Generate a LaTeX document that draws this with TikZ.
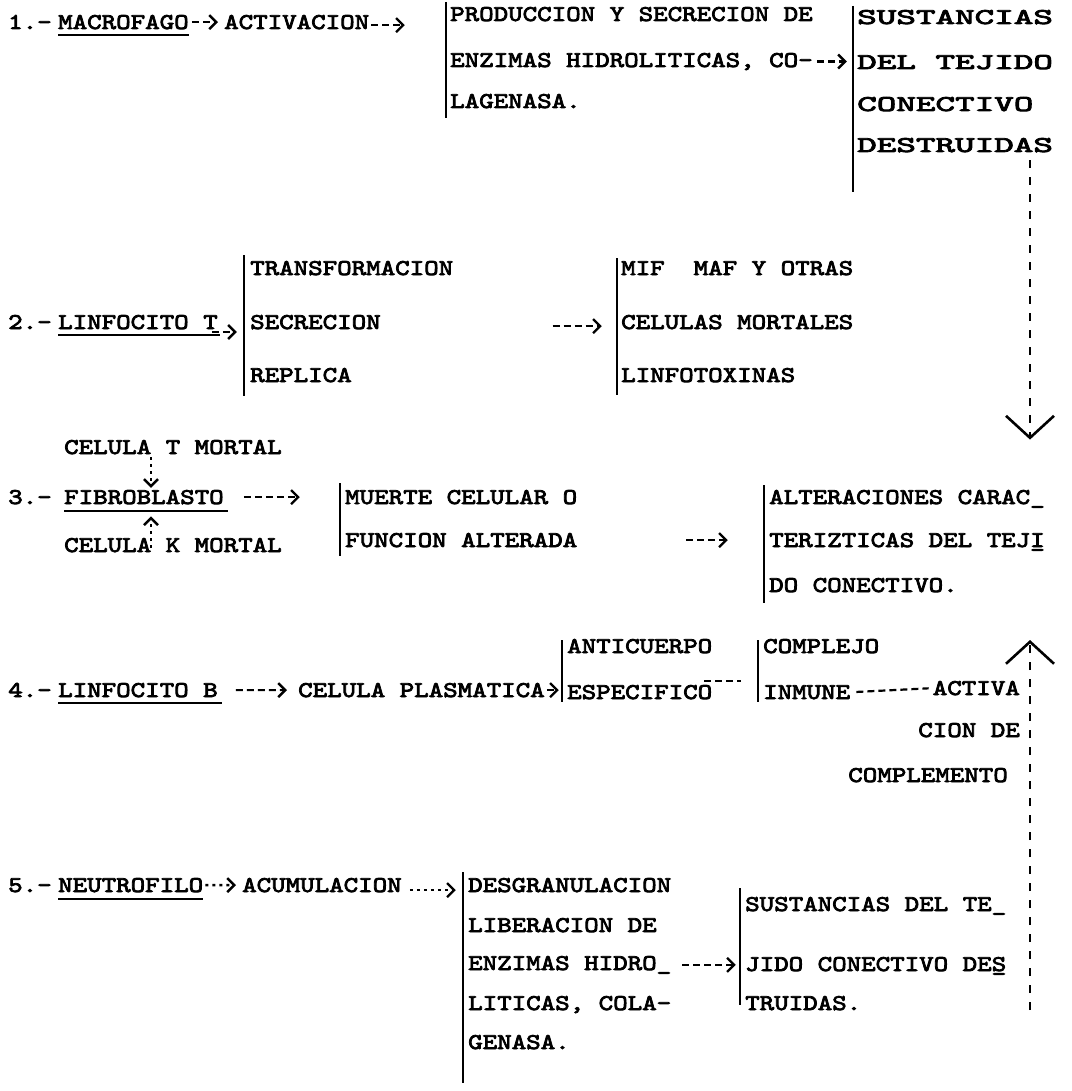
\documentclass[tikz,border=0pt]{standalone}
\usepackage{fontspec}
\usepackage{graphicx}
\usetikzlibrary{arrows.meta,fit,calc}
\newfontfamily\twf{lmmono10-regular.otf}[FakeStretch=1.2275,FakeBold=3.5]
\newcommand\twfont{\fontsize{22.5}{27}\selectfont\twf}
\newcommand\wide[1]{\scalebox{1.35}[1]{#1}}
\begin{document}
\begin{tikzpicture}[x=1pt,y=-1pt,
  t/.style={anchor=base west,inner sep=0pt,font=\twfont},
  tr/.style={anchor=base east,inner sep=0pt,font=\twfont},
  grp/.style={inner sep=0pt},
  bar/.style={line width=2.4pt},
  ul/.style={line width=1.8pt},
  con/.style={line width=2.2pt,dash pattern=on 7pt off 4pt,-{Straight Barb[length=7pt,width=14pt,line width=2.4pt]}},
  dcon/.style={line width=2.4pt,dash pattern=on 3pt off 4pt,-{Straight Barb[length=7pt,width=14pt,line width=2.4pt]}},
  pdash/.style={line width=2.2pt,dash pattern=on 7pt off 4pt},
  vcon/.style={line width=2.6pt,dash pattern=on 8pt off 9pt,-{Straight Barb[length=22pt,width=48pt,line width=2.6pt]}},
]
\fill[white] (0,0) rectangle (1071,1091);
\useasboundingbox (0,0) rectangle (1071,1091);
\coordinate (rx) at (1030,0);
\coordinate (cx) at (151,0);

% ---------- row 1
\node[t] (n1) at (8,29) {1.-};
\node[t] (mac) at (58,29) {MACROFAGO};
\draw[ul] ([yshift=-6pt]mac.base west) -- ([yshift=-6pt]mac.base east);
\node[t] (act) at (224,29) {ACTIVACION};
\node[t] (p1) at (450,21) {PRODUCCION Y SECRECION DE};
\node[t] (p2) at (450,67) {ENZIMAS HIDROLITICAS, CO-};
\node[t] (p3) at (450,108) {LAGENASA.};
\node[grp,fit=(p1)(p2)(p3)] (g1) {};
\draw[bar] (446,2) -- (446,118);
\node[t] (s1) at (857,24) {\wide{SUSTANCIAS}};
\node[t] (s2) at (857,69) {\wide{DEL TEJIDO}};
\node[t] (s3) at (857,111) {\wide{CONECTIVO}};
\node[t] (s4) at (857,152) {\wide{DESTRUIDAS}};
\node[grp,fit=(s1)(s2)(s3)(s4)] (g2) {};
\draw[bar] (853,6) -- (853,192);
\draw[con,shorten <=3pt,shorten >=6pt] (mac.east) -- (act.west);
\draw[con,shorten <=2pt,shorten >=45pt] ([yshift=-3pt]act.east) -- ([yshift=-3pt]act.east -| g1.west);
\draw[con,shorten <=4pt,shorten >=10pt] (p2.east) -- (p2.east -| g2.west);

% ---------- row 2
\node[t] (n2) at (8,329) {2.-};
\node[t] (lt) at (58,329) {LINFOCITO T};
\draw[ul] ([yshift=-6pt]lt.base west) -- ([shift={(2pt,-6pt)}]lt.base east);
\node[t] (tr1) at (250,275) {TRANSFORMACION};
\node[t] (tr2) at (250,329) {SECRECION};
\node[t] (tr3) at (250,382) {REPLICA};
\node[grp,fit=(tr1)(tr2)(tr3)] (g3) {};
\draw[bar] (244,255) -- (244,396);
\node[t] (m1) at (621,275) {MIF~~MAF Y OTRAS};
\node[t] (m2) at (621,329) {CELULAS MORTALES};
\node[t] (m3) at (621,382) {LINFOTOXINAS};
\node[grp,fit=(m1)(m2)(m3)] (g4) {};
\draw[bar] (617,258) -- (617,395);
\draw[con,shorten >=7pt] ([shift={(-6pt,-3pt)}]lt.base east) -- ([shift={(-6pt,-3pt)}]lt.base east -| g3.west);
\draw[con,shorten <=99pt,shorten >=19pt] ([yshift=-4pt]tr2.east -| g3.east) -- ([yshift=-4pt]tr2.east -| g4.west);

% ---------- row 3
\node[t] (ctm) at (64,454) {CELULA T MORTAL};
\node[t] (n3) at (8,504) {3.-};
\node[t] (fib) at (64,504) {FIBROBLASTO};
\draw[ul] ([yshift=-7pt]fib.base west) -- ([shift={(4pt,-7pt)}]fib.base east);
\node[t] (ckm) at (64,552) {CELULA K MORTAL};
\node[t] (mu1) at (345,504) {MUERTE CELULAR O};
\node[t] (mu2) at (345,547) {FUNCION ALTERADA};
\node[grp,fit=(mu1)(mu2)] (g5) {};
\draw[bar] (340,483) -- (340,556);
\node[t] (al1) at (769,504) {ALTERACIONES CARAC\_};
\node[t] (al2) at (769,547) {TERIZTICAS DEL TEJ\rlap{\_}I};
\node[t] (al3) at (769,592) {DO CONECTIVO.};
\node[grp,fit=(al1)(al2)(al3)] (g6) {};
\draw[bar] (764,485) -- (764,603);
\draw[dcon,shorten <=3pt,shorten >=2pt] (ctm.south -| cx) -- (fib.north -| cx);
\draw[dcon,shorten >=12pt] ([yshift=4pt]ckm.base -| cx) -- (fib.south -| cx);
\draw[con,shorten <=20pt,shorten >=45pt] (fib.east) -- (fib.east -| g5.west);
\draw[con,shorten <=109pt,shorten >=41pt] (mu2.east) -- (mu2.east -| g6.west);
\draw[vcon,shorten <=8pt,shorten >=50pt] (s4.south -| rx) -- (g6.north -| rx);

% ---------- row 4
\node[t] (n4) at (8,697) {4.-};
\node[t] (lb) at (58,697) {LINFOCITO B};
\draw[ul] ([yshift=-6pt]lb.base west) -- ([shift={(4pt,-6pt)}]lb.base east);
\node[t] (cp) at (298,697) {CELULA PLASMATICA};
\node[t] (an1) at (567,653) {ANTICUERPO};
\node[t] (an2) at (567,699) {ESPECIFICO};
\node[grp,fit=(an1)(an2)] (g7) {};
\draw[bar] (562,640) -- (562,702);
\node[t] (co1) at (763,653) {COMPLEJO};
\node[t] (co2) at (763,699) {INMUNE};
\node[grp,fit=(co1)(co2)] (g8) {};
\draw[bar] (758,640) -- (758,702);
\node[tr] (ac1) at (1020,695) {ACTIVA};
\node[tr] (ac2) at (1020,737) {CION DE};
\node[tr] (ac3) at (1008,782) {COMPLEMENTO};
\draw[con,shorten <=18pt,shorten >=11pt] (lb.east) -- (cp.west);
\draw[con,shorten <=2pt,shorten >=8pt] (cp.east) -- (cp.east -| g7.west);
\draw[pdash,shorten <=-8pt,shorten >=22pt] ([yshift=4pt]an2.north east) -- ([yshift=4pt]an2.north east -| g8.west);
\draw[pdash,shorten <=6pt,shorten >=4pt] (co2.east) -- (ac1.west);

% ---------- row 5
\node[t] (n5) at (8,892) {5.-};
\node[t] (ne) at (58,892) {NEUTROFILO};
\draw[ul] ([yshift=-7pt]ne.base west) -- ([yshift=-7pt]ne.base east);
\node[t] (acu) at (242,892) {ACUMULACION};
\node[t] (d1) at (468,892) {DESGRANULACION};
\node[t] (d2) at (468,932) {LIBERACION DE};
\node[t] (d3) at (468,970) {ENZIMAS HIDRO\_};
\node[t] (d4) at (468,1010) {LITICAS, COLA-};
\node[t] (d5) at (468,1049) {GENASA.};
\node[grp,fit=(d1)(d2)(d3)(d4)(d5)] (g9) {};
\draw[bar] (463,872) -- (463,1083);
\node[t] (su1) at (745,911) {SUSTANCIAS DEL TE\_};
\node[t] (su2) at (745,971) {JIDO CONECTIVO DE\rlap{\_}S};
\node[t] (su3) at (745,1010) {TRUIDAS.};
\node[grp,fit=(su1)(su2)(su3)] (g10) {};
\draw[bar] (740,888) -- (740,1005);
\draw[dcon,shorten <=2pt,shorten >=6pt] (ne.east) -- (acu.west);
\draw[dcon,shorten <=8pt,shorten >=12pt] ([yshift=-5pt]acu.east) -- ([yshift=-5pt]acu.east -| g9.west);
\draw[con,shorten <=11pt,shorten >=9pt] (d3.east) -- (d3.east -| g10.west);
\draw[vcon,shorten <=0pt,shorten >=48pt] (su3.base -| rx) -- (al3.base -| rx);
\end{tikzpicture}
\end{document}
